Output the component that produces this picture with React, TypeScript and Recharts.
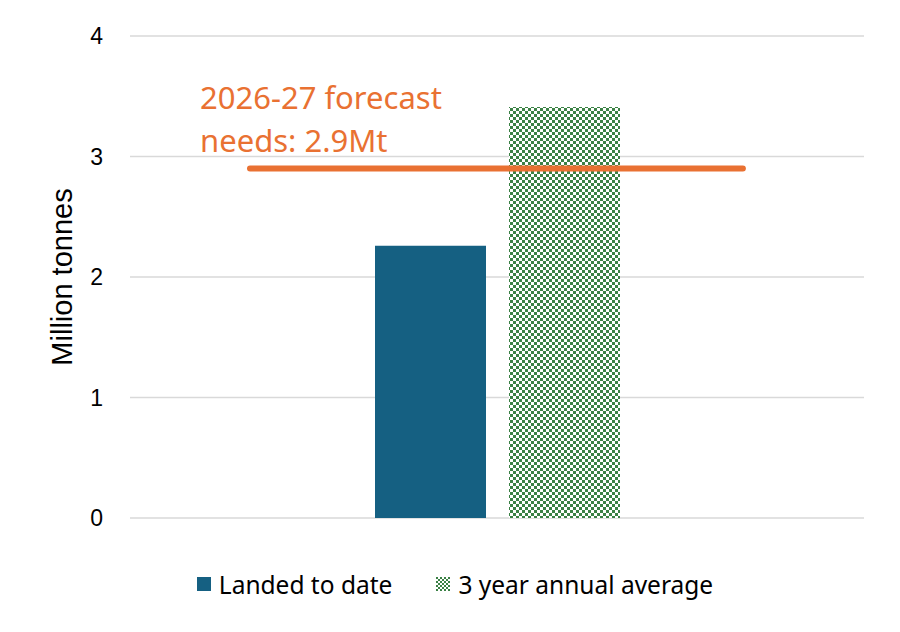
import {
  BarChart,
  Bar,
  XAxis,
  YAxis,
  CartesianGrid,
  ReferenceLine,
  Legend,
  Label,
} from "recharts";

const categories = ["2025-26"];
const landedToDate = [2.26];
const threeYearAverage = [3.41];
const yTicks = [0, 1, 2, 3, 4];

// forecast line: value and horizontal span (fraction of plot width)
const forecastValue = 2.9;
const forecastSpan = [0.1635, 0.835];
const forecastText = ["2026-27 forecast", "needs: 2.9Mt"];

const BLUE = "#156082";
const GREEN = "#196B24";
const ORANGE = "#E97132";
const SANS = "'Noto Sans', sans-serif";
const ARIAL = "'Liberation Sans', Arial, sans-serif";

const data = categories.map((name, i) => ({
  name,
  landed: landedToDate[i],
  average: threeYearAverage[i],
}));

// shortens the full-width reference line to the forecast span
const ForecastLine = (p: any) => {
  const w = p.x2 - p.x1;
  return (
    <line
      x1={p.x1 + w * forecastSpan[0]}
      x2={p.x1 + w * forecastSpan[1]}
      y1={p.y1}
      y2={p.y2}
      stroke={ORANGE}
      strokeWidth={6}
      strokeLinecap="round"
    />
  );
};

const ForecastLabel = (props: any) => {
  const { viewBox } = props;
  if (!viewBox) return null;
  const x = viewBox.x + viewBox.width * forecastSpan[0] - 50;
  return (
    <text x={x} y={viewBox.y - 60} fill={ORANGE} fontSize={31} fontFamily={SANS}>
      <tspan x={x} dy={0}>{forecastText[0]}</tspan>
      <tspan x={x} dy={43}>{forecastText[1]}</tspan>
    </text>
  );
};

const LegendContent = () => (
  <div
    style={{
      display: "flex",
      justifyContent: "center",
      alignItems: "center",
      gap: 44,
      height: 30,
      paddingLeft: 10,
      fontFamily: SANS,
      fontSize: 24.5,
      color: "#000",
    }}
  >
    <span style={{ display: "flex", alignItems: "center", gap: 8 }}>
      <svg width={14} height={14}>
        <rect width={14} height={14} fill={BLUE} />
      </svg>
      Landed to date
    </span>
    <span style={{ display: "flex", alignItems: "center", gap: 8 }}>
      <svg width={14} height={14}>
        <defs>
          <pattern id="checkLegend" width={4} height={4} patternUnits="userSpaceOnUse">
            <rect width={4} height={4} fill="#fff" />
            <rect x={0} y={0} width={2} height={2} fill={GREEN} fillOpacity={0.85} />
            <rect x={2} y={2} width={2} height={2} fill={GREEN} fillOpacity={0.85} />
          </pattern>
        </defs>
        <rect width={14} height={14} fill="url(#checkLegend)" />
      </svg>
      3 year annual average
    </span>
  </div>
);

export default function App() {
  return (
    <div style={{ position: "absolute", left: 0, top: 0, background: "#fff" }}>
      <BarChart
        width={900}
        height={632}
        data={data}
        margin={{ top: 36, right: 36, left: 0, bottom: 84 }}
        barSize={111}
        barGap={23}
      >
        <defs>
          <pattern id="checker" width={6} height={6} patternUnits="userSpaceOnUse">
            <rect width={6} height={6} fill="#fff" />
            <rect x={0} y={0} width={3} height={3} fill={GREEN} fillOpacity={0.85} />
            <rect x={3} y={3} width={3} height={3} fill={GREEN} fillOpacity={0.85} />
          </pattern>
        </defs>
        <CartesianGrid vertical={false} stroke="#d9d9d9" strokeWidth={1.5} />
        <XAxis dataKey="name" hide />
        <YAxis
          width={130}
          domain={[0, 4]}
          ticks={yTicks}
          axisLine={false}
          tickLine={false}
          tickMargin={21}
          tick={{ fontSize: 23, fill: "#000", fontFamily: ARIAL }}
        >
          <Label
            value="Million tonnes"
            angle={-90}
            position="center"
            dx={-3}
            style={{ fontSize: 29, fill: "#000", fontFamily: ARIAL }}
          />
        </YAxis>
        <Bar dataKey="landed" name="Landed to date" fill={BLUE} isAnimationActive={false} />
        <Bar dataKey="average" name="3 year annual average" fill="url(#checker)" isAnimationActive={false} />
        <ReferenceLine
          y={forecastValue}
          shape={<ForecastLine />}
          ifOverflow="visible"
          label={<ForecastLabel />}
        />
        <Legend
          verticalAlign="bottom"
          content={<LegendContent />}
          wrapperStyle={{ bottom: 33, left: 0, width: 900 }}
        />
      </BarChart>
    </div>
  );
}
